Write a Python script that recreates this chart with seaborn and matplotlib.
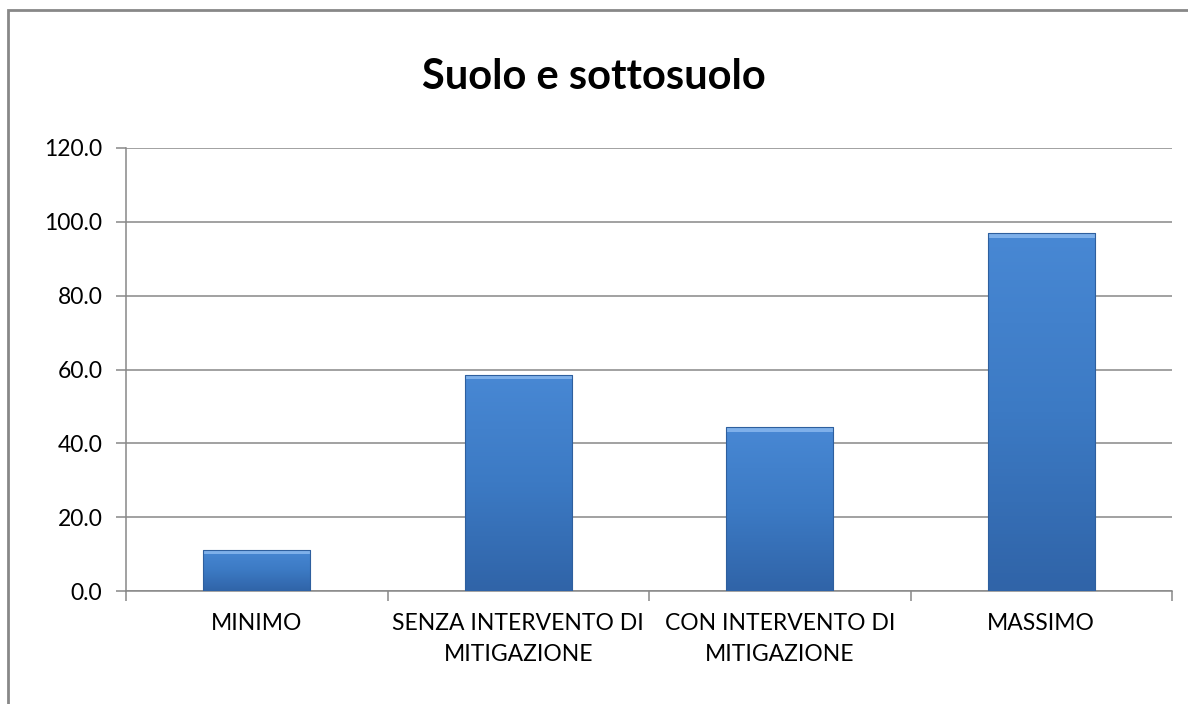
import numpy as np
import pandas as pd
import seaborn as sns
import matplotlib.pyplot as plt
from matplotlib.patches import Rectangle
from matplotlib.colors import LinearSegmentedColormap

# Values
categories = ['MINIMO', 'SENZA INTERVENTO DI\nMITIGAZIONE', 'CON INTERVENTO DI\nMITIGAZIONE', 'MASSIMO']
values = [11.2, 58.6, 44.4, 96.9]
y_ticks = [0, 20, 40, 60, 80, 100, 120]

df = pd.DataFrame({'categoria': categories, 'valore': values})

sns.set_style('white')
plt.rcParams['font.family'] = ['Lato', 'DejaVu Sans']

fig = plt.figure(figsize=(11.88, 7.04), dpi=100)
ax = fig.add_axes([126 / 1188, 1 - 591 / 704, (1172 - 126) / 1188, (591 - 148) / 704])

sns.barplot(data=df, x='categoria', y='valore', color='#3D7CC6', width=0.41,
            edgecolor='none', linewidth=0, saturation=1, ax=ax, zorder=3)

ax.set_ylim(0, 120)
ax.set_xlim(-0.5, 3.5)

# gradient fill + light bevel on each bar (clipped to the bar shape)
grad = LinearSegmentedColormap.from_list('bar', ['#3064A8', '#3C7AC4', '#4888D4'])
shade = np.linspace(0, 1, 100).reshape(-1, 1)
for p in list(ax.patches):
    x0, w, h = p.get_x(), p.get_width(), p.get_height()
    im = ax.imshow(shade, cmap=grad, aspect='auto', origin='lower',
                   extent=(x0, x0 + w, 0, h), zorder=3.5)
    im.set_clip_path(p)
    ax.add_patch(Rectangle((x0, h - 1.3), w, 1.3, color='#7EB0EA', zorder=4, lw=0))
    ax.add_patch(Rectangle((x0, 0), w, h, fill=False, edgecolor='#2E5F9E', lw=0.8, zorder=4.5))

ax.set_xlim(-0.5, 3.5)
ax.set_ylim(0, 120)
ax.set_yticks(y_ticks)
ax.set_yticklabels([f'{v:.1f}' for v in y_ticks])
ax.yaxis.grid(True, color='#888888', linewidth=1.1, zorder=0)
ax.set_axisbelow(True)
ax.set_xlabel('')
ax.set_ylabel('')

for s in ['top', 'right']:
    ax.spines[s].set_visible(False)
for s in ['left', 'bottom']:
    ax.spines[s].set_color('#888888')
    ax.spines[s].set_linewidth(1.1)

ax.tick_params(axis='y', which='major', length=7, color='#888888', width=1.1,
               labelsize=16.5, pad=10, left=True, labelcolor='black')
ax.tick_params(axis='x', which='major', length=0, labelsize=16.5, pad=16, labelcolor='black')
for t in ax.get_xticklabels():
    t.set_linespacing(1.6)
ax.set_xticks([-0.5, 0.5, 1.5, 2.5, 3.5], minor=True)
ax.tick_params(axis='x', which='minor', length=7, color='#888888', width=1.1, bottom=True)

fig.text(0.5, 1 - 77 / 704, 'Suolo e sottosuolo', ha='center', va='center',
         fontsize=30, fontweight='bold', color='black')

# outer chart border
fig.patches.append(Rectangle((8 / 1188, -0.1), 1.2, 1 - 10 / 704 + 0.1,
                             transform=fig.transFigure, fill=False,
                             edgecolor='#888888', linewidth=2))

fig.savefig('out.png', dpi=100)
